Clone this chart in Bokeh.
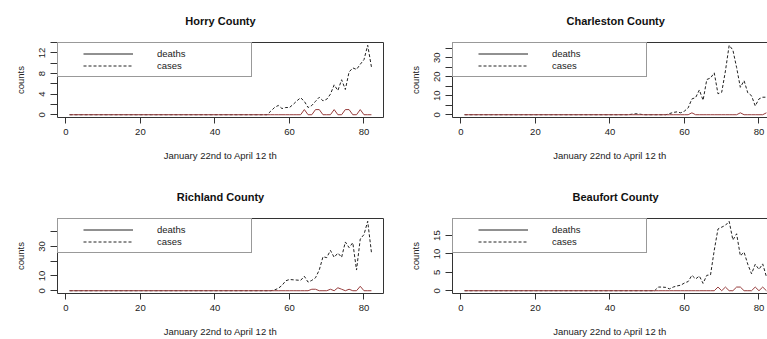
from bokeh.plotting import figure
from bokeh.layouts import row, column
from bokeh.models import FixedTicker, Legend, LegendItem, LinearAxis
from bokeh.embed import file_html
from bokeh.resources import INLINE

# ---------------- data ----------------
days = list(range(1, 83))  # January 22nd .. April 12th

horry_cases = [0, 0, 0, 0, 0, 0, 0, 0, 0, 0,
               0, 0, 0, 0, 0, 0, 0, 0, 0, 0,
               0, 0, 0, 0, 0, 0, 0, 0, 0, 0,
               0, 0, 0, 0, 0, 0, 0, 0, 0, 0,
               0, 0, 0, 0, 0, 0, 0, 0, 0, 0,
               0, 0, 0, 0, 0.7, 1.4, 1.8, 1.2, 1.4, 1.4,
               2.0, 2.7, 3.3, 2.6, 1.4, 1.8, 2.6, 3.4, 2.7, 3.0,
               4.0, 5.8, 4.7, 6.8, 4.9, 8.3, 9.1, 8.8, 9.8, 10.7,
               13.5, 9.3]
horry_deaths = [0, 0, 0, 0, 0, 0, 0, 0, 0, 0,
                0, 0, 0, 0, 0, 0, 0, 0, 0, 0,
                0, 0, 0, 0, 0, 0, 0, 0, 0, 0,
                0, 0, 0, 0, 0, 0, 0, 0, 0, 0,
                0, 0, 0, 0, 0, 0, 0, 0, 0, 0,
                0, 0, 0, 0, 0, 0, 0, 0, 0, 0,
                0, 0, 0, 1, 0, 0, 1, 1, 0, 0,
                0, 1, 0, 0, 1, 1, 0, 0, 1, 0,
                0, 0]

charleston_cases = [0, 0, 0, 0, 0, 0, 0, 0, 0, 0,
                    0, 0, 0, 0, 0, 0, 0, 0, 0, 0,
                    0, 0, 0, 0, 0, 0, 0, 0, 0, 0,
                    0, 0, 0, 0, 0, 0, 0, 0, 0, 0,
                    0, 0, 0, 0, 0, 0.3, 0.5, 0.3, 0, 0,
                    0, 0, 0, 0, 0, 0.6, 1.2, 1.5, 1.0, 1.9,
                    3.6, 8.3, 9.0, 13.0, 7.6, 18.5, 19.3, 22.0, 11.0, 11.8,
                    23.0, 36.5, 34.0, 24.8, 14.4, 17.9, 11.5, 10.0, 4.6, 8.3,
                    9.2, 9.2]
charleston_deaths = [0, 0, 0, 0, 0, 0, 0, 0, 0, 0,
                     0, 0, 0, 0, 0, 0, 0, 0, 0, 0,
                     0, 0, 0, 0, 0, 0, 0, 0, 0, 0,
                     0, 0, 0, 0, 0, 0, 0, 0, 0, 0,
                     0, 0, 0, 0, 0, 0, 0, 0, 0, 0,
                     0, 0, 0, 0, 0, 0, 0, 0, 0, 0,
                     0, 1, 0, 0, 0, 0, 0, 0, 0, 0,
                     0, 0, 0, 0, 1, 0, 0, 0, 0, 0,
                     0, 1]

richland_cases = [0, 0, 0, 0, 0, 0, 0, 0, 0, 0,
                  0, 0, 0, 0, 0, 0, 0, 0, 0, 0,
                  0, 0, 0, 0, 0, 0, 0, 0, 0, 0,
                  0, 0, 0, 0, 0, 0, 0, 0, 0, 0,
                  0, 0, 0, 0, 0, 0, 0, 0, 0, 0,
                  0, 0, 0, 0, 0, 0.5, 1.6, 3.6, 6.7, 7.6,
                  7.4, 7.2, 7.0, 9.8, 5.8, 7.0, 8.8, 14.0, 23.0, 22.4,
                  27.3, 22.6, 25.5, 22.6, 33.0, 29.2, 32.5, 14.0, 35.0, 38.0,
                  47.0, 26.0]
richland_deaths = [0, 0, 0, 0, 0, 0, 0, 0, 0, 0,
                   0, 0, 0, 0, 0, 0, 0, 0, 0, 0,
                   0, 0, 0, 0, 0, 0, 0, 0, 0, 0,
                   0, 0, 0, 0, 0, 0, 0, 0, 0, 0,
                   0, 0, 0, 0, 0, 0, 0, 0, 0, 0,
                   0, 0, 0, 0, 0, 0, 0, 0, 0, 0,
                   0, 0, 0, 0, 0, 1, 1, 0, 0, 0,
                   1, 0, 2, 1, 0, 1, 0, 0, 3, 0,
                   0, 0]

beaufort_cases = [0, 0, 0, 0, 0, 0, 0, 0, 0, 0,
                  0, 0, 0, 0, 0, 0, 0, 0, 0, 0,
                  0, 0, 0, 0, 0, 0, 0, 0, 0, 0,
                  0, 0, 0, 0, 0, 0, 0, 0, 0, 0,
                  0, 0, 0, 0, 0, 0, 0, 0, 0, 0,
                  0, 0, 1.0, 1.0, 0.9, 0.5, 1.0, 1.3, 1.5, 2.1,
                  2.5, 4.2, 3.2, 4.0, 2.0, 4.2, 4.3, 11.0, 16.8, 17.3,
                  17.8, 18.9, 13.8, 15.5, 9.5, 10.5, 7.2, 4.6, 7.2, 5.8,
                  7.3, 3.8]
beaufort_deaths = [0, 0, 0, 0, 0, 0, 0, 0, 0, 0,
                   0, 0, 0, 0, 0, 0, 0, 0, 0, 0,
                   0, 0, 0, 0, 0, 0, 0, 0, 0, 0,
                   0, 0, 0, 0, 0, 0, 0, 0, 0, 0,
                   0, 0, 0, 0, 0, 0, 0, 0, 0, 0,
                   0, 0, 0, 0, 0, 0, 0, 0, 0, 0,
                   0, 0, 0, 0, 0, 0, 0, 0, 1, 0,
                   1, 0, 0, 1, 1, 0, 0, 0, 1, 0,
                   1, 0]

titles = ["Horry County", "Charleston County", "Richland County", "Beaufort County"]
x_label = "January 22nd to April 12 th"
y_label = "counts"
legend_labels = ["deaths", "cases"]
x_ticks = [0, 20, 40, 60, 80]
y_ticks = {"Horry County": ([0, 4, 8, 12], [2, 6, 10, 14]),
           "Charleston County": ([0, 10, 20, 30], [5, 15, 25, 35]),
           "Richland County": ([0, 10, 30], [20, 40]),
           "Beaufort County": ([0, 5, 10, 15], [])}

# ---------------- styling ----------------
FONT = "Liberation Sans"
INK = "#333333"
DEATH_COLOR = "#963C3C"
FULL_FRAME_W = 326
# right-hand panels are clipped by the picture edge; their titles stay centred
# on the full (unclipped) panel, so they are placed from the left edge instead
RIGHT_TITLE_OFFSET = {"Charleston County": 114, "Beaufort County": 120}


def border_axis():
    # plain line along a frame edge (R's box), no ticks or labels
    return LinearAxis(ticker=FixedTicker(ticks=[]), major_label_text_font_size="0px",
                      axis_line_color=INK, major_tick_line_color=None,
                      minor_tick_line_color=None, major_label_standoff=0,
                      major_tick_out=0, major_tick_in=0)


def make_panel(title, cases, deaths, right_col, bottom_row):
    ymax = max(cases)
    pad_y = 0.04 * ymax
    pad_x = 0.04 * (days[-1] - days[0])
    x0 = days[0] - pad_x
    x1 = days[-1] + pad_x
    fw = 315 if right_col else FULL_FRAME_W
    x_end = x0 + (x1 - x0) * fw / FULL_FRAME_W

    p = figure(frame_width=fw, frame_height=75,
               x_range=(x0, x_end), y_range=(-pad_y, ymax + pad_y),
               output_backend="svg", toolbar_location=None,
               min_border_left=57, min_border_right=0 if right_col else 12,
               min_border_top=42, min_border_bottom=46 if bottom_row else 59,
               background_fill_color="white", border_fill_color="white")
    p.xgrid.visible = False
    p.ygrid.visible = False
    p.outline_line_color = None

    p.title.text = title
    p.title.text_font = FONT
    p.title.text_font_size = "11px"
    p.title.text_font_style = "bold"
    p.title.text_color = "#111111"
    p.title.vertical_align = "top"
    p.title.standoff = 27
    if right_col:
        p.title.align = "left"
        p.title.offset = RIGHT_TITLE_OFFSET[title]
    else:
        p.title.align = "center"

    xa = p.below[0]
    xa.ticker = FixedTicker(ticks=x_ticks, minor_ticks=[])
    xa.axis_label = x_label
    ya = p.left[0]
    yt, ymt = y_ticks[title]
    ya.ticker = FixedTicker(ticks=yt, minor_ticks=ymt)
    ya.axis_label = y_label
    ya.major_label_orientation = "vertical"

    for ax, tick_len, lab_off, axl_off in ((xa, 6, 5, 12), (ya, 7, 5, 11)):
        ax.axis_line_color = INK
        ax.major_tick_line_color = INK
        ax.minor_tick_line_color = INK
        ax.major_tick_out = tick_len
        ax.major_tick_in = 0
        ax.minor_tick_out = tick_len
        ax.minor_tick_in = 0
        ax.major_label_standoff = lab_off
        ax.axis_label_standoff = axl_off
        ax.major_label_text_font = FONT
        ax.major_label_text_font_size = "9.5px"
        ax.major_label_text_color = "#222222"
        ax.axis_label_text_font = FONT
        ax.axis_label_text_font_size = "9.5px"
        ax.axis_label_text_font_style = "normal"
        ax.axis_label_text_color = "#222222"

    # box edges: top for every panel, right only where it is inside the picture
    p.add_layout(border_axis(), "above")
    if not right_col:
        p.add_layout(border_axis(), "right")

    p.line(days, cases, line_color="#222222", line_width=1, line_dash="3 2")
    p.line(days, deaths, line_color=DEATH_COLOR, line_width=1)

    # legend samples (black, as in R's legend); hidden renderers, drawn only in the legend
    r_d = p.line(days, deaths, line_color="#222222", line_width=1,
                 line_dash="0 20 50 1000", visible=False)
    r_c = p.line(days, cases, line_color="#222222", line_width=1,
                 line_dash="0 20 " + " ".join(["3 2"] * 10), visible=False)
    leg = Legend(items=[LegendItem(label=legend_labels[0], renderers=[r_d]),
                        LegendItem(label=legend_labels[1], renderers=[r_c])],
                 location="top_left", margin=0, padding=5, spacing=1,
                 glyph_width=70, glyph_height=11, label_height=11,
                 label_width=89, label_standoff=24,
                 border_line_color=INK, border_line_width=1,
                 background_fill_color="white", background_fill_alpha=1,
                 inactive_fill_alpha=0,
                 label_text_font=FONT, label_text_font_size="9.5px",
                 label_text_color="#222222")
    p.add_layout(leg)
    return p


p1 = make_panel(titles[0], horry_cases, horry_deaths, False, False)
p2 = make_panel(titles[1], charleston_cases, charleston_deaths, True, False)
p3 = make_panel(titles[2], richland_cases, richland_deaths, False, True)
p4 = make_panel(titles[3], beaufort_cases, beaufort_deaths, True, True)

layout = column(row(p1, p2), row(p3, p4))

open("out.html", "w").write(file_html(layout, INLINE))
